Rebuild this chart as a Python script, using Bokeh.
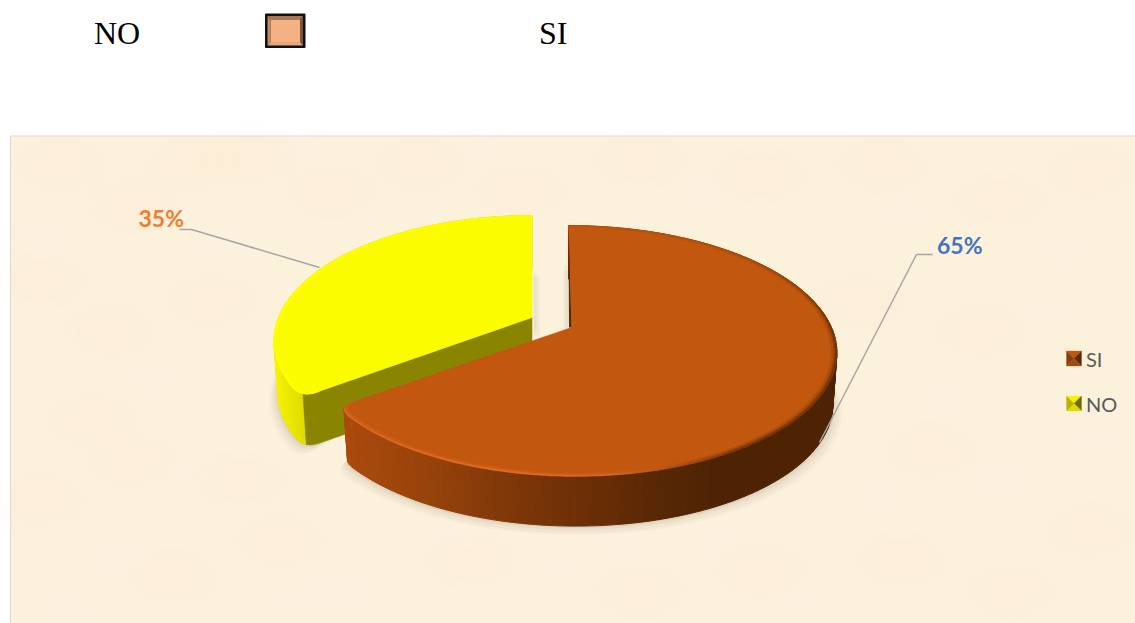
import math
from bokeh.plotting import figure
from bokeh.models import Range1d
from bokeh.core.properties import value
from bokeh.embed import file_html
from bokeh.resources import INLINE

categories = ["SI", "NO"]
values = [65, 35]
percent_labels = ["65%", "35%"]
caption_labels = ["NO", "SI"]

W, H = 1135, 623
p = figure(width=W, height=H, x_range=Range1d(0, W), y_range=Range1d(H, 0),
           output_backend="svg", toolbar_location=None, min_border=0,
           background_fill_color="white", border_fill_color="white", outline_line_color=None)
p.axis.visible = False
p.grid.visible = False

# helpers
def hx(c):
    c = c.lstrip("#")
    return tuple(int(c[i:i + 2], 16) for i in (0, 2, 4))

def mix(a, b, t):
    a, b = hx(a), hx(b)
    t = max(0, min(1, t))
    return "#%02x%02x%02x" % tuple(round(a[i] + (b[i] - a[i]) * t) for i in range(3))

def ramp(stops, x):
    if x <= stops[0][0]:
        return stops[0][1]
    for (x0, c0), (x1, c1) in zip(stops, stops[1:]):
        if x <= x1:
            return mix(c0, c1, (x - x0) / (x1 - x0))
    return stops[-1][1]

# parchment panel with hand-placed mottling
p.quad(left=[10], right=[1140], top=[135.5], bottom=[630], fill_color="#FCF1DB",
       line_color="#D9D9D9", line_width=1)
dark_x = [60, 130, 190, 250, 330, 420, 520, 640, 760, 880, 1000, 1090, 40, 110, 210, 90, 173, 280, 40, 130, 240, 470, 640, 760, 900, 1010, 1090, 860, 980, 930]
dark_y = [165, 205, 165, 155, 190, 165, 190, 160, 175, 165, 200, 170, 280, 330, 300, 420, 577, 540, 500, 460, 480, 560, 590, 570, 560, 590, 530, 300, 330, 450]
lite_x = [95, 40, 300, 215, 480, 700, 900, 1060, 35, 190, 350, 560, 620, 800, 1000, 150, 1090, 940, 1050, 120, 70, 300, 450, 720, 880]
lite_y = [190, 240, 150, 245, 150, 190, 210, 250, 520, 470, 590, 570, 540, 600, 480, 380, 440, 400, 310, 560, 610, 600, 535, 540, 500]
for s, a in ((1.0, 0.03), (0.7, 0.03), (0.4, 0.03)):
    p.ellipse(x=dark_x, y=dark_y, width=100 * s, height=60 * s, fill_color="#F3E2BC",
              fill_alpha=a, line_color=None)
    p.ellipse(x=lite_x, y=lite_y, width=90 * s, height=44 * s, fill_color="#FEF8EC",
              fill_alpha=a + 0.05, line_color=None)

# projected pie geometry
STEP = 1.5
DEPTH = 52
BASE_SCALE = 0.985
K = 0.187
ROUND_PX = 15
ROUND_DEG = 4.5

def project(theta, apex, sx=260.0, tilt=0.0, py=121.0):
    u = math.sin(math.radians(theta))
    v = math.cos(math.radians(theta))
    w = 1 + K * v
    return apex[0] + (sx * u + tilt * v) / w, apex[1] - py * v / w

def base(pt, apex):
    return apex[0] + (pt[0] - apex[0]) * BASE_SCALE, apex[1] + (pt[1] - apex[1]) * BASE_SCALE + DEPTH

def angles(a, b):
    n = max(2, int(round((b - a) / STEP)))
    return [a + (b - a) * i / n for i in range(n + 1)]

def corner(apex, theta, trim, g):
    c = project(theta, apex, **g)
    r = project(theta + trim, apex, **g)
    d = math.hypot(c[0] - apex[0], c[1] - apex[1])
    e = (c[0] + (apex[0] - c[0]) * ROUND_PX / d, c[1] + (apex[1] - c[1]) * ROUND_PX / d)
    out = []
    for i in range(7):
        s = i / 6
        out.append(((1 - s) ** 2 * r[0] + 2 * s * (1 - s) * c[0] + s ** 2 * e[0],
                    (1 - s) ** 2 * r[1] + 2 * s * (1 - s) * c[1] + s ** 2 * e[1]))
    return out

total = sum(values)
si_end = 360 * values[0] / total
brown_apex = (571, 327)
yellow_apex = (531.5, 317)
BG = dict(sx=260.0, tilt=-3.6)
YG = dict(sx=253.5, tilt=0.0)

brown_rim = [project(t, brown_apex, **BG) for t in angles(0, si_end - ROUND_DEG)]
brown_cnr = corner(brown_apex, si_end, -ROUND_DEG, BG)
brown_path = brown_rim + brown_cnr[1:]
yellow_rim = [project(t, yellow_apex, **YG) for t in angles(si_end + ROUND_DEG, 360)]
yellow_cnr = corner(yellow_apex, si_end, ROUND_DEG, YG)
yellow_path = yellow_cnr[::-1][:-1] + yellow_rim

def draw_shadow(apex, path):
    rim = [base(q, apex) for q in path]
    for grow, dy, alpha in ((1.035, 9, 0.03), (1.025, 7, 0.04), (1.015, 4, 0.05), (1.006, 2, 0.07)):
        xs = [apex[0] + (x - apex[0]) * grow for x, y in rim] + [apex[0]]
        ys = [y + dy for x, y in rim] + [apex[1]]
        p.patch(xs, ys, fill_color="#5a5040", fill_alpha=alpha, line_color=None)

draw_shadow(brown_apex, brown_path[60:])
draw_shadow(yellow_apex, yellow_path[:50])

gap_l = [533, 533, 563, 565]
gap_r = [536, 539, 568, 568]
gap_t = [272, 276, 265, 270]
gap_b = [330, 335, 330, 330]
p.quad(left=gap_l, right=gap_r, top=gap_t, bottom=gap_b, fill_color="#6a6050", fill_alpha=0.06, line_color=None)

def wall(apex, path, stops):
    xs, ys, cs = [], [], []
    for p0, p1 in zip(path, path[1:]):
        b0, b1 = base(p0, apex), base(p1, apex)
        xs.append([p0[0], p1[0], b1[0], b0[0]])
        ys.append([p0[1], p1[1], b1[1], b0[1]])
        cs.append(ramp(stops, (p0[0] + p1[0]) / 2))
    p.patches(xs, ys, fill_color=cs, line_color=cs, line_width=1)

def top_face(apex, path, fill):
    p.patch([apex[0]] + [q[0] for q in path], [apex[1]] + [q[1] for q in path],
            fill_color=fill, line_color=fill, line_width=0.5)

def bevel(apex, path, edge_fn, fill):
    for r0, r1, amt in ((0.978, 0.988, 0.25), (0.988, 0.994, 0.6), (0.994, 1.0, 1.0)):
        xs, ys, cs = [], [], []
        n = len(path)
        for i in range(n - 1):
            a, b = path[i], path[i + 1]
            q = [(apex[0] + (c[0] - apex[0]) * r, apex[1] + (c[1] - apex[1]) * r)
                 for c, r in ((a, r0), (b, r0), (b, r1), (a, r1))]
            xs.append([c[0] for c in q])
            ys.append([c[1] for c in q])
            cs.append(mix(fill, edge_fn(i / (n - 1)), amt))
        p.patches(xs, ys, fill_color=cs, line_color=cs, line_width=0.3)

# NO slice (yellow, pulled away)
yellow_wall = [(274, "#F6F300"), (290, "#E8E500"), (310, "#DAD600")]
wall(yellow_apex, yellow_path[3:], yellow_wall)
olive_top = yellow_cnr[3:]
olive_x = [yellow_apex[0]] + [q[0] for q in olive_top[::-1]] + [base(q, yellow_apex)[0] for q in olive_top] + [yellow_apex[0]]
olive_y = [yellow_apex[1]] + [q[1] for q in olive_top[::-1]] + [base(q, yellow_apex)[1] for q in olive_top] + [yellow_apex[1] + DEPTH]
p.patch(olive_x, olive_y, fill_color="#8A8500", line_color="#8A8500", line_width=0.5)
top_face(yellow_apex, yellow_path, "#FCFC00")
bevel(yellow_apex, yellow_path, lambda f: "#FFFF00", "#FCFC00")

# SI slice (brown)
brown_wall = [(345, "#AB4A0C"), (430, "#96420B"), (520, "#7B3608"), (590, "#6B2E06"),
              (650, "#5A2805"), (720, "#4D2304")]
wall(brown_apex, brown_path, brown_wall)
BROWN = "#C2570F"

def brown_edge(f):
    return ramp([(0, "#BA530E"), (0.2, "#A84C0C"), (0.38, "#6E3307"), (0.62, "#6E3307"),
                 (0.72, "#D9682A"), (0.8, "#E6722E"), (1, "#D86623")], f)

top_face(brown_apex, brown_path, BROWN)
bevel(brown_apex, brown_path, brown_edge, BROWN)
t0 = project(0, brown_apex, **BG)
SLIVER = 2.5
p.patch([t0[0], brown_apex[0], brown_apex[0] - SLIVER], [t0[1], brown_apex[1], brown_apex[1]],
        fill_color="#5A2A08", line_color=None)

# leader lines
p.line([179, 191, 319], [229, 229, 267], line_color="#A6A6A6", line_width=1.5)
p.line([932, 916, 819], [254, 254, 442], line_color="#A6A6A6", line_width=1.5)

LAB = dict(text_font=value("Lato"), text_font_style="bold", text_font_size="23px",
           text_baseline="middle", text_align="left")
p.text(x=[936.5], y=[244], text=[percent_labels[0]], text_color="#4472C4", **LAB)
p.text(x=[138], y=[217], text=[percent_labels[1]], text_color="#ED7D31", **LAB)

# legend
leg_y = [358, 403]
leg_c = [("#C2570F", "#8A3F0A", "#5A2805", "#A04A0C"), ("#F5F200", "#B8B500", "#6E6A00", "#DEDA00")]
for cy, (c_top, c_left, c_right, c_bot), name in zip(leg_y, leg_c, categories):
    cx, hw = 1073.5, 7.5
    corners = [(cx - hw, cy - hw), (cx + hw, cy - hw), (cx + hw, cy + hw), (cx - hw, cy + hw)]
    cols = [c_top, c_right, c_bot, c_left]
    for i in range(4):
        a, b = corners[i], corners[(i + 1) % 4]
        p.patch([a[0], b[0], cx], [a[1], b[1], cy], fill_color=cols[i], line_color=cols[i], line_width=0.3)
    p.text(x=[1085.5], y=[cy], text=[name], text_font=value("Lato"), text_font_size="20px",
           text_color="#595959", text_baseline="middle", text_align="left")

# caption above the panel
CAP = dict(text_font=value("Liberation Serif"), text_font_size="32px", text_color="#000000",
           text_baseline="middle", text_align="left")
p.text(x=[93.5], y=[32.5], text=[caption_labels[0]], **CAP)
p.text(x=[538.5], y=[32.5], text=[caption_labels[1]], **CAP)

# beveled box in the caption
L, R, T, B = 265, 304.5, 13.5, 47
IL, IR, IT, IB = 270, 299.5, 19, 41.5
p.quad(left=[L], right=[R], top=[T], bottom=[B], fill_color="#111111", line_color="#111111")
L2, R2, T2, B2 = L + 2, R - 2, T + 2, B - 2
p.patch([L2, R2, IR, IL], [T2, T2, IT, IT], fill_color="#A9764F", line_color=None)
p.patch([L2, IL, IL, L2], [T2, IT, IB, B2], fill_color="#C58A5F", line_color=None)
p.patch([R2, IR, IR, R2], [T2, IT, IB, B2], fill_color="#7A553A", line_color=None)
p.patch([L2, R2, IR, IL], [B2, B2, IB, IB], fill_color="#E8A878", line_color=None)
p.quad(left=[IL], right=[IR], top=[IT], bottom=[IB], fill_color="#F4B183", line_color=None)

open("out.html", "w").write(file_html(p, INLINE))
